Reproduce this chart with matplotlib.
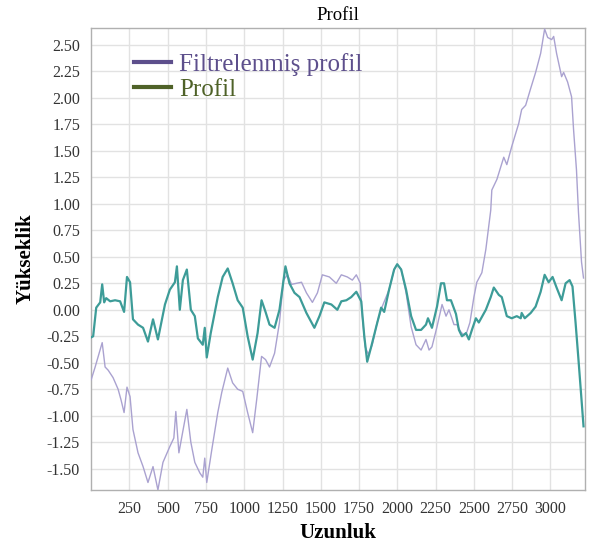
import matplotlib
matplotlib.use("Agg")
import matplotlib.pyplot as plt
import numpy as np

plt.rcParams['font.family'] = ['Liberation Serif', 'DejaVu Serif']

# Profil (teal line)
profil_x = [0, 13, 33, 59, 72, 85, 98, 124, 156, 189, 215, 234, 254, 273, 306, 339, 371, 404, 436,
            482, 514, 547, 560, 579, 599, 625, 651, 677, 697, 729, 742, 755, 781, 827, 859, 892, 924,
            957, 990, 1022, 1055, 1087, 1113, 1139, 1165, 1198, 1230, 1269, 1295, 1328, 1361, 1406,
            1458, 1491, 1523, 1569, 1608, 1634, 1667, 1699, 1732, 1764, 1784, 1803, 1829, 1862, 1894,
            1914, 1946, 1979, 1999, 2025, 2057, 2090, 2122, 2155, 2187, 2200, 2226, 2259, 2285, 2305,
            2324, 2350, 2383, 2402, 2422, 2448, 2467, 2487, 2513, 2532, 2578, 2610, 2630, 2663, 2682,
            2715, 2747, 2780, 2806, 2812, 2832, 2871, 2903, 2936, 2962, 2988, 3014, 3040, 3073, 3099,
            3125, 3144, 3164, 3183, 3203, 3216]
profil_y = [-0.26, -0.25, 0.02, 0.07, 0.24, 0.07, 0.11, 0.08, 0.09, 0.08, -0.02, 0.31, 0.26, -0.09,
            -0.14, -0.17, -0.30, -0.09, -0.28, 0.05, 0.19, 0.26, 0.41, 0.00, 0.28, 0.38, 0.00, -0.06,
            -0.27, -0.33, -0.17, -0.45, -0.22, 0.12, 0.31, 0.39, 0.25, 0.09, 0.02, -0.25, -0.47, -0.22,
            0.09, -0.02, -0.14, -0.17, 0.00, 0.41, 0.25, 0.16, 0.12, -0.03, -0.17, -0.06, 0.07, 0.05,
            0.00, 0.08, 0.09, 0.12, 0.17, 0.08, -0.25, -0.49, -0.35, -0.16, 0.02, -0.02, 0.19, 0.38,
            0.43, 0.38, 0.19, -0.06, -0.19, -0.19, -0.14, -0.08, -0.17, 0.03, 0.25, 0.25, 0.09, 0.09,
            -0.04, -0.19, -0.25, -0.22, -0.28, -0.19, -0.08, -0.12, 0.00, 0.12, 0.21, 0.14, 0.12,
            -0.06, -0.08, -0.06, -0.08, -0.03, -0.08, -0.03, 0.03, 0.17, 0.33, 0.26, 0.31, 0.21, 0.09,
            0.25, 0.28, 0.22, -0.12, -0.47, -0.85, -1.10]

# Filtrelenmis profil (lavender line)
filtre_x = [0, 26, 46, 72, 91, 111, 143, 176, 195, 215, 234, 254, 273, 306, 339, 371, 404, 436, 469,
            514, 540, 553, 573, 592, 625, 651, 677, 710, 729, 742, 755, 788, 827, 853, 892, 924, 957,
            990, 1022, 1055, 1081, 1113, 1139, 1165, 1198, 1230, 1256, 1282, 1309, 1341, 1374, 1406,
            1445, 1478, 1510, 1556, 1601, 1634, 1673, 1706, 1732, 1758, 1771, 1790, 1810, 1836, 1868,
            1901, 1946, 1979, 1999, 2025, 2057, 2090, 2122, 2155, 2187, 2207, 2226, 2259, 2292, 2318,
            2337, 2370, 2389, 2415, 2435, 2454, 2474, 2500, 2519, 2552, 2578, 2610, 2617, 2650, 2695,
            2715, 2747, 2793, 2812, 2838, 2871, 2903, 2936, 2962, 2982, 3008, 3021, 3040, 3073, 3086,
            3112, 3138, 3151, 3170, 3183, 3203, 3216]
filtre_y = [-0.66, -0.54, -0.44, -0.31, -0.54, -0.57, -0.64, -0.75, -0.85, -0.97, -0.73, -0.82,
            -1.13, -1.35, -1.48, -1.63, -1.48, -1.70, -1.44, -1.29, -1.21, -0.96, -1.35, -1.20, -0.94,
            -1.25, -1.44, -1.54, -1.58, -1.40, -1.63, -1.32, -0.97, -0.78, -0.55, -0.69, -0.75, -0.77,
            -0.97, -1.16, -0.85, -0.44, -0.47, -0.54, -0.41, -0.12, 0.28, 0.33, 0.24, 0.25, 0.26, 0.16,
            0.07, 0.16, 0.33, 0.31, 0.25, 0.33, 0.31, 0.28, 0.33, 0.25, -0.06, -0.35, -0.42, -0.33,
            -0.12, 0.03, 0.19, 0.38, 0.43, 0.38, 0.16, -0.16, -0.33, -0.38, -0.28, -0.38, -0.35, -0.16,
            0.05, -0.06, 0.00, -0.14, -0.14, -0.21, -0.24, -0.21, -0.12, 0.12, 0.26, 0.35, 0.57, 0.94,
            1.13, 1.23, 1.44, 1.37, 1.54, 1.76, 1.89, 1.93, 2.09, 2.24, 2.42, 2.65, 2.57, 2.55, 2.58,
            2.42, 2.20, 2.24, 2.15, 2.01, 1.70, 1.32, 0.92, 0.45, 0.30]

x_ticks = [250, 500, 750, 1000, 1250, 1500, 1750, 2000, 2250, 2500, 2750, 3000]
y_ticks = [-1.50, -1.25, -1.00, -0.75, -0.50, -0.25, 0.00, 0.25, 0.50, 0.75, 1.00, 1.25, 1.50,
           1.75, 2.00, 2.25, 2.50]

fig = plt.figure(figsize=(5.92, 5.48), dpi=100)
ax = fig.add_axes([0.154, 0.106, 0.834, 0.843])

ax.plot(filtre_x, filtre_y, color='#aaa2d0', linewidth=1.0, zorder=3)
ax.plot(profil_x, profil_y, color='#3d9c98', linewidth=1.6, zorder=4)

ax.set_xlim(0, 3225)
ax.set_ylim(-1.70, 2.66)
ax.set_xticks(x_ticks)
ax.set_yticks(y_ticks)
ax.set_xticklabels([str(t) for t in x_ticks])
ax.set_yticklabels([f'{t:.2f}' for t in y_ticks])
ax.tick_params(length=0, labelsize=11.5, colors='#333333', pad=8)
ax.grid(True, color='#e2e2e2', linewidth=1.0)
ax.set_axisbelow(True)
for s in ax.spines.values():
    s.set_color('#b0b0b0')
    s.set_linewidth(1.0)

ax.set_title('Profil', fontsize=13.5, pad=6)
ax.set_xlabel('Uzunluk', fontsize=15, fontweight='bold', labelpad=4)
ax.set_ylabel('Yükseklik', fontsize=15, fontweight='bold', labelpad=8)

# legend with coloured text, no frame
h1, = ax.plot([], [], color='#5d4f8c', linewidth=3)
h2, = ax.plot([], [], color='#4f6228', linewidth=3)
ax.legend([h1, h2], ['Filtrelenmiş profil', 'Profil'], loc='upper left',
          bbox_to_anchor=(0.041, 0.995), frameon=False, fontsize=18, handlelength=1.5,
          handletextpad=0.3, labelspacing=0.12, labelcolor=['#5d4f8c', '#4f6228'])

fig.savefig('out.png', dpi=100)
